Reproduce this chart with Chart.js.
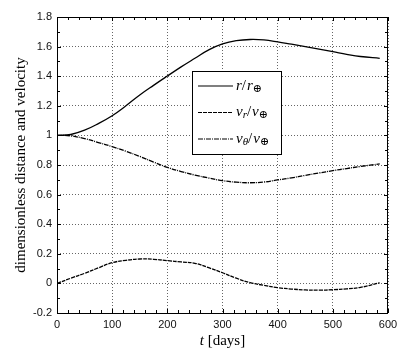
<!DOCTYPE html>
<html>
<head>
<meta charset="utf-8">
<script src="https://cdn.jsdelivr.net/npm/chart.js@4.4.1/dist/chart.umd.min.js"></script>
<style>
  html, body { margin: 0; padding: 0; background: #fff; }
</style>
</head>
<body>
<canvas id="chart" width="406" height="353"></canvas>
<script>
// time in days and the three dimensionless quantities
const days = [0, 25, 50, 75, 100, 125, 150, 175, 200, 225, 250, 275, 300,
              325, 350, 375, 400, 425, 450, 475, 500, 525, 550, 585];
const rRatio = [1.000, 1.006, 1.035, 1.080, 1.133, 1.200, 1.273, 1.338, 1.401, 1.463, 1.521, 1.578, 1.618,
                1.640, 1.648, 1.645, 1.632, 1.616, 1.600, 1.583, 1.566, 1.548, 1.533, 1.521];
const vrRatio = [0.000, 0.035, 0.068, 0.105, 0.140, 0.156, 0.165, 0.163, 0.154, 0.145, 0.136, 0.106, 0.072,
                 0.035, 0.005, -0.013, -0.029, -0.038, -0.044, -0.046, -0.043, -0.037, -0.027, 0.004];
const vthRatio = [1.000, 0.997, 0.978, 0.952, 0.924, 0.893, 0.858, 0.820, 0.784, 0.756, 0.732, 0.712, 0.694,
                  0.684, 0.680, 0.685, 0.699, 0.713, 0.730, 0.746, 0.762, 0.776, 0.790, 0.807];

const xLimits = [0, 600];
const yLimits = [-0.2, 1.8];
const xTitle = ['t', ' [days]'];
const yTitle = 'dimensionless distance and velocity';

// legend entries: pieces of each math label (it = italic, sub = subscript)
const legendLabels = [
  [{s: 'r', it: true}, {s: '/'}, {s: 'r', it: true}, {s: '\u2295', sub: true}],
  [{s: 'v', it: true}, {s: 'r', it: true, sub: true}, {s: '/'}, {s: 'v', it: true}, {s: '\u2295', sub: true}],
  [{s: 'v', it: true}, {s: '\u03b8', it: true, sub: true}, {s: '/'}, {s: 'v', it: true}, {s: '\u2295', sub: true}]
];
const lineDashes = [[], [4, 1], [5, 1, 1, 1]];

const SERIF = '"Liberation Serif", "DejaVu Serif", serif';

function toPoints(values) {
	return days.map((t, i) => ({x: t, y: values[i]}));
}

function drawMath(ctx, x, y, parts) {
	for (const p of parts) {
		const size = p.sub ? 11 : 15;
		ctx.font = (p.it ? 'italic ' : '') + size + 'px ' + SERIF;
		ctx.fillText(p.s, x, y + (p.sub ? 3 : 0));
		x += ctx.measureText(p.s).width + (p.s === '/' ? 1 : 0);
	}
}

// box, inward ticks, titles and legend drawn on top
const decorPlugin = {
	id: 'decor',
	afterDraw(chart) {
		const {ctx, chartArea: a, scales: {x, y}} = chart;
		ctx.save();
		ctx.strokeStyle = '#000';
		ctx.lineWidth = 1;
		ctx.strokeRect(a.left + 0.5, a.top + 0.5, a.right - a.left - 1, a.bottom - a.top);

		// ticks
		ctx.beginPath();
		for (let t = xLimits[0]; t <= xLimits[1]; t += 20) {
			const px = Math.round(x.getPixelForValue(t)) + 0.5;
			const len = t % 100 === 0 ? 4 : 3;
			ctx.moveTo(px, a.bottom); ctx.lineTo(px, a.bottom - len);
			ctx.moveTo(px, a.top); ctx.lineTo(px, a.top + len);
		}
		for (let i = 0; i <= 20; i++) {
			const v = yLimits[0] + i * 0.1;
			const py = Math.round(y.getPixelForValue(v)) + 0.5;
			const len = i % 2 === 0 ? 4 : 3;
			ctx.moveTo(a.left, py); ctx.lineTo(a.left + len, py);
			ctx.moveTo(a.right, py); ctx.lineTo(a.right - len, py);
		}
		ctx.stroke();

		// axis titles
		ctx.fillStyle = '#000';
		ctx.textBaseline = 'middle';
		ctx.textAlign = 'left';
		ctx.font = 'italic 15px ' + SERIF;
		const w1 = ctx.measureText(xTitle[0]).width;
		ctx.font = '15px ' + SERIF;
		const w2 = ctx.measureText(xTitle[1]).width;
		let tx = (a.left + a.right) / 2 - (w1 + w2) / 2;
		ctx.font = 'italic 15px ' + SERIF;
		ctx.fillText(xTitle[0], tx, 341);
		ctx.font = '15px ' + SERIF;
		ctx.fillText(xTitle[1], tx + w1, 341);

		ctx.save();
		ctx.translate(21, (a.top + a.bottom) / 2);
		ctx.rotate(-Math.PI / 2);
		ctx.textAlign = 'center';
		ctx.font = '15px ' + SERIF;
		ctx.fillText(yTitle, 0, 0);
		ctx.restore();

		// legend
		const bx = 192, by = 71, bw = 89, bh = 83;
		ctx.fillStyle = '#fff';
		ctx.fillRect(bx, by, bw, bh);
		ctx.strokeStyle = '#000';
		ctx.strokeRect(bx + 0.5, by + 0.5, bw, bh);
		ctx.fillStyle = '#000';
		ctx.textBaseline = 'middle';
		legendLabels.forEach((parts, i) => {
			const ly = by + 15 + i * 26.5;
			ctx.beginPath();
			ctx.setLineDash(lineDashes[i]);
			ctx.lineWidth = 1.2;
			ctx.moveTo(198, ly); ctx.lineTo(233, ly);
			ctx.stroke();
			ctx.setLineDash([]);
			drawMath(ctx, 236, ly, parts);
		});
		ctx.restore();
	}
};

const lineStyle = {
	borderColor: '#000',
	borderWidth: 1.3,
	pointRadius: 0,
	fill: false,
	tension: 0.4
};

const tickFont = {family: '"Liberation Sans", Arial, sans-serif', size: 11};

new Chart(document.getElementById('chart'), {
	type: 'line',
	data: {
		datasets: [
			Object.assign({label: 'r', data: toPoints(rRatio), borderDash: lineDashes[0]}, lineStyle),
			Object.assign({label: 'vr', data: toPoints(vrRatio), borderDash: lineDashes[1]}, lineStyle),
			Object.assign({label: 'vth', data: toPoints(vthRatio), borderDash: lineDashes[2]}, lineStyle)
		]
	},
	options: {
		responsive: false,
		animation: false,
		devicePixelRatio: 1,
		layout: {padding: {left: 0, right: 18, top: 17, bottom: 0}},
		plugins: {legend: {display: false}, tooltip: {enabled: false}},
		scales: {
			x: {
				type: 'linear',
				min: xLimits[0],
				max: xLimits[1],
				ticks: {stepSize: 100, color: '#111', font: tickFont, padding: 5, maxRotation: 0},
				grid: {color: '#666', lineWidth: 1, drawTicks: false},
				border: {display: false, dash: [1, 2]},
				afterFit(scale) { scale.height = 40; }
			},
			y: {
				min: yLimits[0],
				max: yLimits[1],
				ticks: {
					stepSize: 0.2, color: '#111', font: tickFont, padding: 5,
					callback: (v) => String(Number(v.toFixed(1)))
				},
				grid: {color: '#666', lineWidth: 1, drawTicks: false},
				border: {display: false, dash: [1, 2]},
				afterFit(scale) { scale.width = 57; }
			}
		}
	},
	plugins: [decorPlugin]
});
</script>
</body>
</html>
